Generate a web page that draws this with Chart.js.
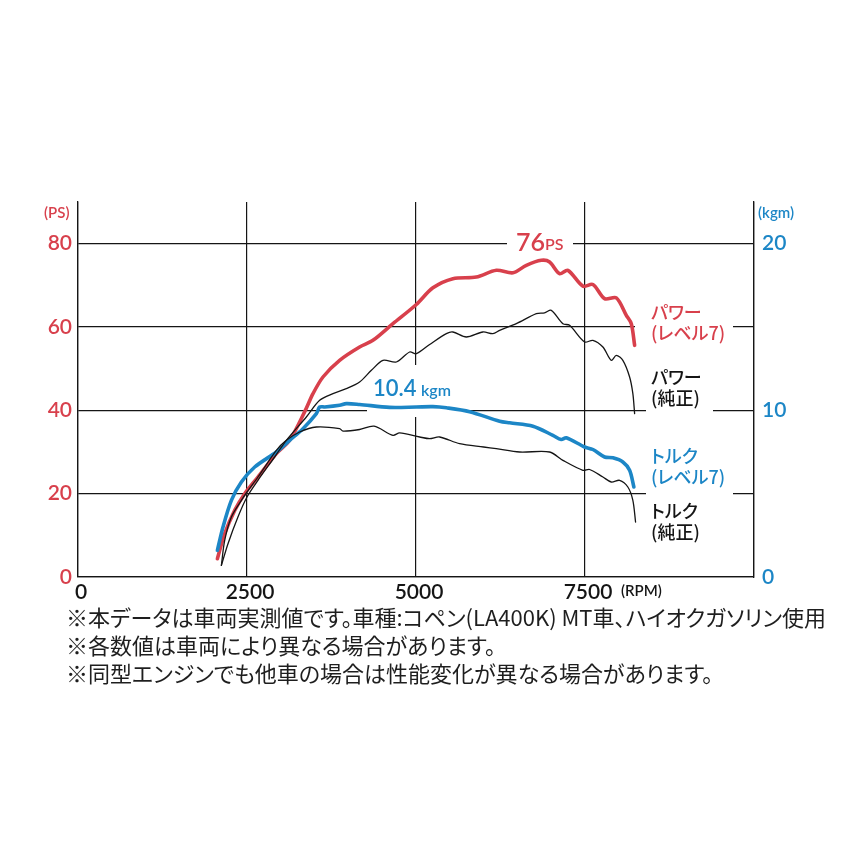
<!DOCTYPE html>
<html><head><meta charset="utf-8">
<script src="https://cdn.jsdelivr.net/npm/chart.js@4"></script>
<style>
html,body{margin:0;padding:0;background:#fff;}
#wrap{position:relative;width:862px;height:862px;}
#c{position:absolute;left:0;top:0;}
.jp{position:absolute;font-family:"Noto Sans CJK JP","Noto Sans",sans-serif;font-feature-settings:"palt";white-space:nowrap;}
.lab{font-size:18px;line-height:20.5px;font-weight:500;}
#foot{left:66px;top:602px;font-size:22px;line-height:28px;color:#1e1e1e;}
</style></head><body>
<div id="wrap">
<canvas id="c" width="862" height="862"></canvas>
<div class="jp lab" style="left:651px;top:301px;color:#d8404c">パワー<br>(レベル7)</div>
<div class="jp lab" style="left:651px;top:366px;color:#151515">パワー<br>(純正)</div>
<div class="jp lab" style="left:651px;top:445px;color:#1c86c6">トルク<br>(レベル7)</div>
<div class="jp lab" style="left:651px;top:500px;color:#151515">トルク<br>(純正)</div>
<div class="jp" id="foot"></div>
</div>
<script>
// ---- data ----
const rpmTicks = [0, 2500, 5000, 7500];
const psTicks = [0, 20, 40, 60, 80];
const kgmTicks = [0, 10, 20];

const lv7PowerRpm = [2062, 2170, 2318, 2466, 2662, 2934, 3131, 3363, 3476, 3624, 3870, 4166, 4363, 4659, 5005, 5250, 5546, 5892, 6188, 6434, 6632, 6854, 6976, 7124, 7247, 7469, 7617, 7790, 7963, 8111, 8185, 8234];
const lv7PowerPs  = [4.4, 10.4, 16, 20, 24, 29.6, 32.8, 40, 44, 48, 52, 55.2, 56.8, 60.8, 65.4, 69.4, 71.6, 72, 73.6, 73, 74.8, 76, 75.6, 72.8, 73.6, 69.8, 70.2, 66.8, 67, 62.8, 60.8, 55.6];

const stockPowerRpm = [2121, 2219, 2366, 2500, 2662, 2909, 3082, 3378, 3575, 3772, 3969, 4166, 4340, 4511, 4709, 4906, 5005, 5202, 5449, 5546, 5744, 5990, 6138, 6237, 6484, 6780, 6902, 7001, 7173, 7272, 7494, 7617, 7765, 7889, 7963, 8060, 8160, 8208, 8234];
const stockPowerPs  = [2.8, 8, 14.4, 19.2, 23.2, 28.8, 32.8, 38.4, 42.4, 44, 45.2, 46.8, 49.6, 52, 51.6, 54, 53.6, 55.8, 58.4, 58.8, 57.6, 58.8, 58.4, 59.2, 60.8, 63.2, 63.4, 64, 60.8, 60.4, 56.4, 56.8, 55.2, 52, 53.2, 52, 48, 44, 39.2];

const lv7TorqueRpm = [2062, 2145, 2269, 2417, 2614, 2934, 3131, 3328, 3526, 3575, 3650, 3870, 3969, 4166, 4610, 5005, 5250, 5450, 5793, 6237, 6385, 6730, 7025, 7149, 7223, 7494, 7617, 7790, 7913, 8060, 8160, 8223];
const lv7TorqueKgm = [1.6, 3.0, 4.6, 5.7, 6.6, 7.5, 8.2, 8.9, 9.8, 10.2, 10.2, 10.3, 10.4, 10.35, 10.18, 10.2, 10.22, 10.15, 9.92, 9.35, 9.25, 9.05, 8.5, 8.25, 8.35, 7.8, 7.65, 7.2, 7.15, 6.9, 6.4, 5.4];

const stockTorqueRpm = [2121, 2170, 2269, 2417, 2500, 2662, 2934, 3082, 3279, 3526, 3870, 3920, 4166, 4380, 4659, 4758, 5055, 5202, 5350, 5645, 6000, 6188, 6533, 6976, 7173, 7469, 7568, 7765, 7889, 8012, 8134, 8208, 8248];
const stockTorqueKgm = [0.7, 2.2, 3.6, 4.6, 5.1, 6.0, 7.6, 8.2, 8.7, 9.0, 8.9, 8.75, 8.85, 9.05, 8.5, 8.65, 8.4, 8.3, 8.4, 8.0, 7.8, 7.7, 7.5, 7.5, 7.0, 6.4, 6.45, 6.0, 5.7, 5.8, 5.4, 4.6, 3.3];

const footnotes = [
  '※本データは車両実測値です。車種:コペン(LA400K) MT車、ハイオクガソリン使用',
  '※各数値は車両により異なる場合があります。',
  '※同型エンジンでも他車の場合は性能変化が異なる場合があります。'
];

document.getElementById('foot').innerHTML = footnotes.join('<br>');

// ---- styling ----
const RED = '#d8404c', BLUE = '#1c86c6', BLACK = '#151515';
const LAT = 'Lato, "Noto Sans", sans-serif';
const pts = (xs, ys) => xs.map((x, i) => ({x: x, y: ys[i]}));

const notes = {
  id: 'notes',
  beforeDatasetsDraw(chart) {
    const ctx = chart.ctx;
    ctx.save();
    ctx.fillStyle = '#fff';
    [[507, 232, 66, 22], [367, 365, 102, 52], [635, 300, 98, 44], [646, 364, 67, 56], [646, 442, 87, 58]]
      .forEach(b => ctx.fillRect(b[0], b[1], b[2], b[3]));
    ctx.restore();
  },
  afterDraw(chart) {
    const ctx = chart.ctx;
    ctx.save();
    ctx.textBaseline = 'middle';
    ctx.textAlign = 'left';
    const t = (s, x, y, font, color) => { ctx.font = font; ctx.fillStyle = color; ctx.fillText(s, x, y); };
    t('76', 516, 243, '600 25px ' + LAT, RED);
    t('PS', 545, 245, '600 16px ' + LAT, RED);
    t('10.4', 373, 389, '600 22px ' + LAT, BLUE);
    t('kgm', 421, 391, '600 16px ' + LAT, BLUE);
    t('(PS)', 44, 213, '600 15px ' + LAT, RED);
    t('(kgm)', 758, 213, '600 15px ' + LAT, BLUE);
    t('(RPM)', 621, 591, '600 15px ' + LAT, BLACK);
    ctx.restore();
  }
};

const gridCommon = {color: BLACK, lineWidth: 1.2, drawTicks: false};
const tickFont = {family: LAT, size: 21, weight: '600'};

new Chart(document.getElementById('c'), {
  type: 'line',
  data: {
    datasets: [
      {label: 'トルク(純正)', data: pts(stockTorqueRpm, stockTorqueKgm), yAxisID: 'y1', borderColor: BLACK, borderWidth: 1.3},
      {label: 'パワー(純正)', data: pts(stockPowerRpm, stockPowerPs), yAxisID: 'y', borderColor: BLACK, borderWidth: 1.3},
      {label: 'トルク(レベル7)', data: pts(lv7TorqueRpm, lv7TorqueKgm), yAxisID: 'y1', borderColor: BLUE, borderWidth: 3.6},
      {label: 'パワー(レベル7)', data: pts(lv7PowerRpm, lv7PowerPs), yAxisID: 'y', borderColor: RED, borderWidth: 3.6}
    ]
  },
  options: {
    responsive: false,
    animation: false,
    layout: {padding: {top: 202, left: 0, right: 0, bottom: 0}},
    plugins: {legend: {display: false}, tooltip: {enabled: false}},
    elements: {point: {radius: 0}, line: {tension: 0.3, borderCapStyle: 'round', borderJoinStyle: 'round', fill: false}},
    scales: {
      x: {
        type: 'linear', min: 0, max: 10000,
        afterBuildTicks: s => { s.ticks = rpmTicks.concat([10000]).map(v => ({value: v})); },
        ticks: {callback: v => rpmTicks.includes(v) ? String(v) : '', font: tickFont, color: BLACK, padding: 3, labelOffset: 3, maxRotation: 0, autoSkip: false},
        grid: gridCommon,
        border: {color: BLACK, width: 1.3},
        afterFit: s => { s.height = 285; }
      },
      y: {
        position: 'left', min: 0, max: 90,
        afterBuildTicks: s => { s.ticks = psTicks.map(v => ({value: v})); },
        ticks: {font: tickFont, color: RED, padding: 6},
        grid: gridCommon,
        border: {color: BLACK, width: 1.3},
        afterFit: s => { s.width = 78; }
      },
      y1: {
        position: 'right', min: 0, max: 22.5,
        afterBuildTicks: s => { s.ticks = kgmTicks.map(v => ({value: v})); },
        ticks: {font: tickFont, color: BLUE, padding: 8},
        grid: {display: false, drawTicks: false},
        border: {color: BLACK, width: 1.3},
        afterFit: s => { s.width = 108; }
      }
    }
  },
  plugins: [notes]
});
</script>
</body></html>
